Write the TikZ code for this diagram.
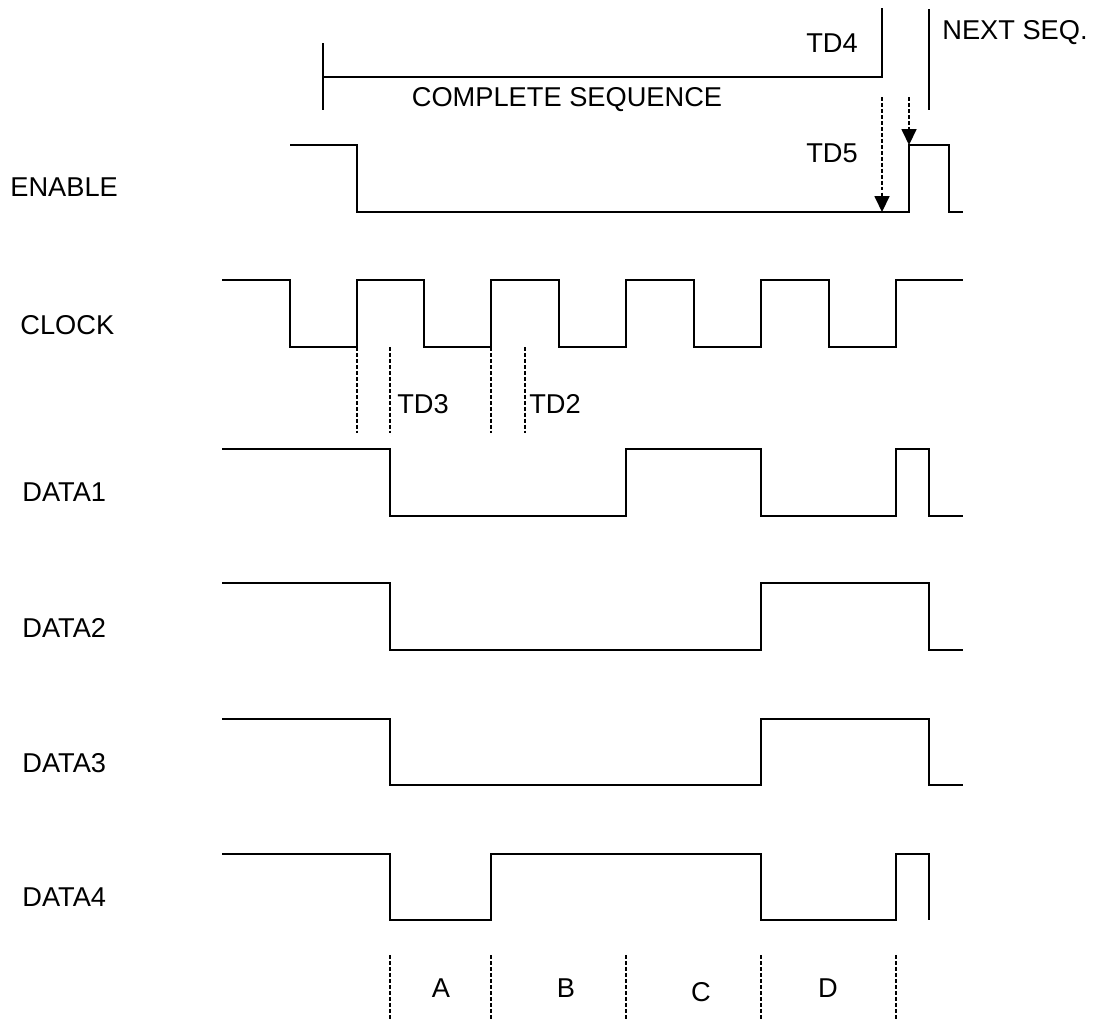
\documentclass[tikz,border=0pt]{standalone}
\usepackage{fontspec}
\setmainfont{Liberation Sans}
\usetikzlibrary{positioning,arrows.meta}
\tikzset{
    sigwave/.style={line width=1.1pt, line join=miter},
    guide/.style={line width=0.8pt, dash pattern=on 2.2pt off 1.2pt},
    marker/.style={line width=1.1pt},
    delay/.style={guide, -{Triangle[length=9pt,width=8.5pt]}},
    siglabel/.style={anchor=west, inner sep=0pt, font=\fontsize{15.5}{18}\selectfont},
    timelabel/.style={inner sep=0pt, font=\fontsize{15.5}{18}\selectfont}
}

\begin{document}
\begin{tikzpicture}[x=0.02cm, y=-0.02cm]
    \useasboundingbox (0,0) rectangle (1098,1019);

    % signal names
    \node[siglabel] (enable) at (10,187) {ENABLE};
    \node[siglabel] (clock) at (20,325) {CLOCK};
    \node[siglabel] (data1) at (22,492) {DATA1};
    \node[siglabel] (data2) at (22,628) {DATA2};
    \node[siglabel] (data3) at (22,763) {DATA3};
    \node[siglabel] (data4) at (22,897) {DATA4};

    % sequence markers
    \draw[marker] (882,8) -- (882,77) -- (323,77);
    \draw[marker] (323,43) -- (323,110);
    \draw[marker] (929,9) -- (929,110);
    \node[timelabel] (td4) at (832,43) {TD4};
    \node[timelabel] (nextseq) at (1015,33) {NEXT SEQ.};
    \node[timelabel] (complete) at (567,100) {COMPLETE SEQUENCE};

    % TD5
    \coordinate (td5a) at (882,97);
    \coordinate (td5b) at (909,97);
    \coordinate (enlow) at (882,212);
    \coordinate (enhigh) at (909,145);
    \draw[delay] (td5a) -- (enlow);
    \draw[delay] (td5b) -- (enhigh);
    \node[timelabel] (td5) at (832,153) {TD5};

    % ENABLE
    \draw[sigwave] (290,145) -- (357,145) -- (357,212) -- (909,212) -- (909,145)
        -- (949,145) -- (949,212) -- (963,212);

    % CLOCK
    \draw[sigwave] (222,280) -- (290,280) -- (290,347) -- (357,347) -- (357,280)
        -- (424,280) -- (424,347) -- (491,347) -- (491,280) -- (559,280)
        -- (559,347) -- (626,347) -- (626,280) -- (694,280) -- (694,347)
        -- (761,347) -- (761,280) -- (829,280) -- (829,347) -- (896,347)
        -- (896,280) -- (963,280);

    % TD3, TD2
    \draw[guide] (357,347) -- (357,433);
    \draw[guide] (390,347) -- (390,433);
    \draw[guide] (491,347) -- (491,433);
    \draw[guide] (525,347) -- (525,433);
    \node[timelabel] (td3) at (423,404) {TD3};
    \node[timelabel] (td2) at (555,404) {TD2};

    % DATA1 .. DATA4
    \draw[sigwave] (222,449) -- (390,449) -- (390,516) -- (626,516) -- (626,449)
        -- (761,449) -- (761,516) -- (896,516) -- (896,449) -- (929,449)
        -- (929,516) -- (963,516);
    \draw[sigwave] (222,583) -- (390,583) -- (390,650) -- (761,650) -- (761,583)
        -- (929,583) -- (929,650) -- (963,650);
    \draw[sigwave] (222,719) -- (390,719) -- (390,785) -- (761,785) -- (761,719)
        -- (929,719) -- (929,785) -- (963,785);
    \draw[sigwave] (222,854) -- (390,854) -- (390,920) -- (491,920) -- (491,854)
        -- (761,854) -- (761,920) -- (896,920) -- (896,854) -- (929,854)
        -- (929,920);

    % phases
    \draw[guide] (390,955) -- (390,1019);
    \draw[guide] (491,955) -- (491,1019);
    \draw[guide] (626,955) -- (626,1019);
    \draw[guide] (761,955) -- (761,1019);
    \draw[guide] (896,955) -- (896,1019);
    \node[timelabel] (pha) at (441,988) {A};
    \node[timelabel] (phb) at (566,988) {B};
    \node[timelabel] (phc) at (701,992) {C};
    \node[timelabel] (phd) at (828,988) {D};
\end{tikzpicture}
\end{document}
